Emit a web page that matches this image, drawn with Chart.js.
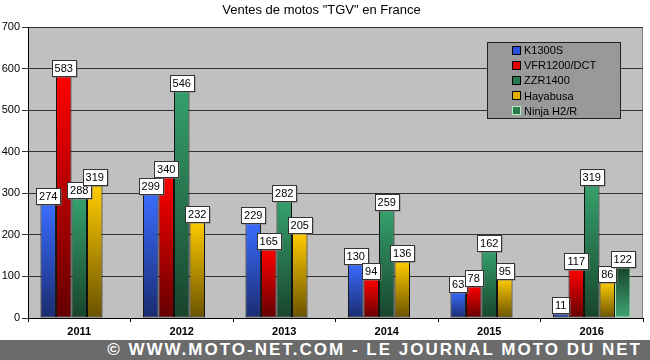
<!DOCTYPE html>
<html>
<head>
<meta charset="utf-8">
<script src="https://cdn.jsdelivr.net/npm/chart.js@4"></script>
<style>
  html, body { margin: 0; padding: 0; background: #fff; }
  #wrap { width: 650px; height: 340px; position: relative; }
  #banner {
    width: 650px; height: 20px; background: #6b6b6b; color: #fff;
    font: bold 17px "Liberation Sans", Arial, sans-serif; letter-spacing: 2px;
    text-align: right; line-height: 20px; box-sizing: border-box; padding-right: 8px;
    white-space: nowrap; overflow: hidden;
  }
</style>
</head>
<body>
<div id="wrap"><canvas id="chart" width="650" height="340"></canvas></div>
<div id="banner">© WWW.MOTO-NET.COM - LE JOURNAL MOTO DU NET</div>
<script>
const years = ["2011", "2012", "2013", "2014", "2015", "2016"];
const k1300s = [274, 299, 229, 130, 63, 11];
const vfr1200 = [583, 340, 165, 94, 78, 117];
const zzr1400 = [288, 546, 282, 259, 162, 319];
const hayabusa = [319, 232, 205, 136, 95, 86];
const ninjaH2 = [null, null, null, null, null, 122];

const FONT = 'Arial, "Liberation Sans", sans-serif';

// degrade vertical sur chaque barre
function grad(top, bottom) {
  return ctx => {
    const c = ctx.chart;
    if (!c.chartArea || ctx.raw == null) return top;
    const y = c.scales.y;
    const g = c.ctx.createLinearGradient(0, y.getPixelForValue(ctx.raw), 0, y.getPixelForValue(0));
    g.addColorStop(0, top);
    g.addColorStop(1, bottom);
    return g;
  };
}

// etiquettes blanches au dessus des barres
const labelsPlugin = {
  id: "boxLabels",
  afterDatasetsDraw(chart) {
    const ctx = chart.ctx;
    ctx.save();
    ctx.font = "11px " + FONT;
    ctx.textAlign = "center";
    ctx.textBaseline = "middle";
    chart.data.datasets.forEach((ds, i) => {
      chart.getDatasetMeta(i).data.forEach((bar, j) => {
        const v = ds.data[j];
        if (v == null) return;
        const txt = String(v);
        const w = Math.round(ctx.measureText(txt).width) + 6;
        const h = 16;
        const x = Math.round(bar.x - w / 2) + 0.5;
        const y = Math.round(bar.y - h) + 0.5;
        ctx.fillStyle = "#808080";
        ctx.fillRect(x + 1, y + 1, w, h);
        ctx.fillStyle = "#fff";
        ctx.fillRect(x, y, w, h);
        ctx.strokeStyle = "#333";
        ctx.lineWidth = 1;
        ctx.strokeRect(x, y, w, h);
        ctx.fillStyle = "#000";
        ctx.fillText(txt, bar.x, y + h / 2 + 0.5);
      });
    });
    ctx.restore();
  }
};

// fond gris de la zone de trace + legende encadree
const areaPlugin = {
  id: "area",
  beforeDraw(chart) {
    const { ctx, chartArea: a } = chart;
    ctx.save();
    ctx.fillStyle = "#c0c0c0";
    ctx.fillRect(a.left, a.top, a.right - a.left, a.bottom - a.top);
    ctx.strokeStyle = "#808080";
    ctx.strokeRect(a.left + 0.5, a.top + 0.5, a.right - a.left - 1, a.bottom - a.top);
    ctx.restore();
  },
  afterDraw(chart) {
    const ctx = chart.ctx;
    const bx = 487.5, by = 42.5, bw = 133, bh = 76;
    ctx.save();
    ctx.fillStyle = "#999999";
    ctx.fillRect(bx, by, bw, bh);
    ctx.strokeStyle = "#222";
    ctx.strokeRect(bx, by, bw, bh);
    ctx.font = "11px " + FONT;
    ctx.textBaseline = "middle";
    chart.data.datasets.forEach((ds, i) => {
      const cy = 50 + i * 15.2;
      ctx.fillStyle = ds.swatch;
      ctx.fillRect(513, Math.round(cy - 3.5), 7, 7);
      ctx.strokeStyle = ds.swatchBorder;
      ctx.strokeRect(512.5, Math.round(cy - 3.5) - 0.5, 8, 8);
      ctx.fillStyle = "#000";
      ctx.fillText(ds.label, 524, cy + 1);
    });
    ctx.restore();
  }
};

new Chart(document.getElementById("chart"), {
  type: "bar",
  data: {
    labels: years,
    datasets: [
      { label: "K1300S", data: k1300s, backgroundColor: grad("#3a6cff", "#1a2c70"), swatch: "#2a50e0", swatchBorder: "#000" },
      { label: "VFR1200/DCT", data: vfr1200, backgroundColor: grad("#ff0000", "#640000"), swatch: "#e00000", swatchBorder: "#000" },
      { label: "ZZR1400", data: zzr1400, backgroundColor: grad("#35a06c", "#18442c"), swatch: "#2a7a50", swatchBorder: "#000" },
      { label: "Hayabusa", data: hayabusa, backgroundColor: grad("#ffcc00", "#6a5200"), swatch: "#e0b000", swatchBorder: "#000" },
      { label: "Ninja H2/R", data: ninjaH2, backgroundColor: grad("#18442c", "#3fa574"), swatch: "#2a7a50", swatchBorder: "#b0f0c0", borderColor: "#a8e8b8" }
    ].map(d => Object.assign({ borderColor: "#111", borderWidth: 1, borderSkipped: false, categoryPercentage: 0.757, barPercentage: 1 }, d))
  },
  options: {
    responsive: false,
    animation: false,
    layout: { padding: { top: 0, right: 7, left: 0, bottom: 0 } },
    plugins: {
      legend: { display: false },
      tooltip: { enabled: false },
      title: {
        display: true,
        text: 'Ventes de motos "TGV" en France',
        color: "#000",
        font: { family: FONT, size: 13, weight: "normal", lineHeight: 1.2 },
        padding: { top: 3, bottom: 8.4 }
      }
    },
    scales: {
      x: {
        grid: { drawOnChartArea: false, offset: true, color: "#000", tickLength: 4 },
        border: { color: "#000" },
        ticks: { color: "#000", font: { family: FONT, size: 11, weight: "bold" }, padding: 3 },
        afterFit: s => { s.height = 22; }
      },
      y: {
        min: 0, max: 700,
        ticks: { stepSize: 100, color: "#000", font: { family: FONT, size: 11 }, padding: 2 },
        grid: { color: "#333", tickLength: 6 },
        border: { color: "#000" },
        afterFit: s => { s.width = 28; }
      }
    }
  },
  plugins: [areaPlugin, labelsPlugin]
});
</script>
</body>
</html>
